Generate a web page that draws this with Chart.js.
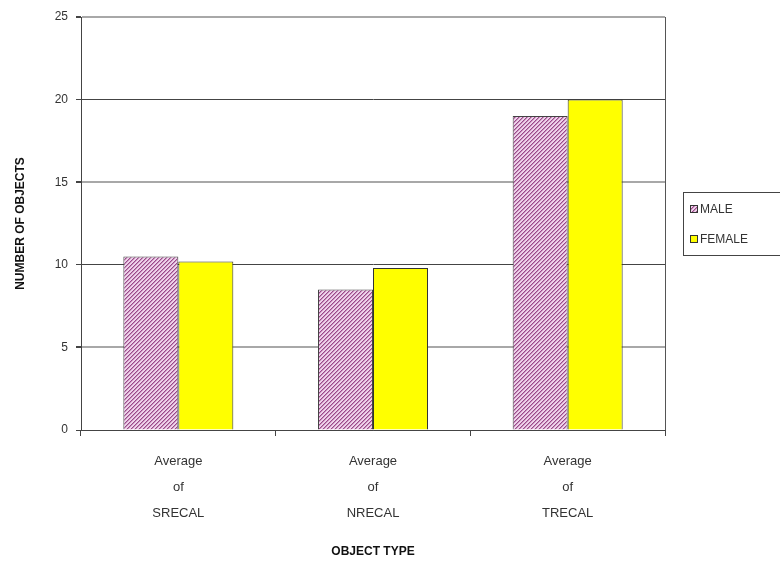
<!DOCTYPE html>
<html>
<head>
<meta charset="utf-8">
<script src="https://cdn.jsdelivr.net/npm/chart.js@4.4.1/dist/chart.umd.min.js"></script>
<style>
  html, body { margin: 0; padding: 0; background: #fff; }
  #wrap { width: 780px; height: 563px; position: relative; }
</style>
</head>
<body>
<div id="wrap"><canvas id="c" width="780" height="563"></canvas></div>
<script>
const categories = [["Average", "of", "SRECAL"], ["Average", "of", "NRECAL"], ["Average", "of", "TRECAL"]];
const seriesNames = ["MALE", "FEMALE"];
const maleValues = [10.5, 8.5, 19];
const femaleValues = [10.2, 9.8, 20];
const yMax = 25;
const yStep = 5;

// Hatched fill for the MALE bars
function makeHatch() {
  const p = document.createElement('canvas');
  p.width = 4; p.height = 4;
  const g = p.getContext('2d');
  g.fillStyle = '#eed2ea';
  g.fillRect(0, 0, 4, 4);
  g.fillStyle = '#9a4a8a';
  for (let i = 0; i < 4; i++) {
    g.fillRect(i, 3 - i, 1, 1);
  }
  g.fillStyle = '#c890bc';
  for (let i = 0; i < 4; i++) {
    g.fillRect((i + 1) % 4, 3 - i, 1, 1);
  }
  return g.createPattern(p, 'repeat');
}

const FONT = "'Liberation Sans', Arial, sans-serif";

// Frame on the right edge of the plot plus the boxed legend
const framePlugin = {
  id: 'frame',
  afterDraw(chart) {
    const { ctx, chartArea: a } = chart;
    ctx.save();
    ctx.strokeStyle = '#555';
    ctx.lineWidth = 1;
    ctx.beginPath();
    ctx.moveTo(a.right + 0.5, a.top);
    ctx.lineTo(a.right + 0.5, a.bottom);
    ctx.stroke();

    // legend box
    const lx = 683, ly = 192, lw = 110, lh = 63;
    ctx.strokeStyle = '#444';
    ctx.strokeRect(lx + 0.5, ly + 0.5, lw, lh);
    ctx.font = '12px ' + FONT;
    ctx.textBaseline = 'middle';
    ctx.textAlign = 'left';
    chart.data.datasets.forEach((ds, i) => {
      const cy = ly + 17 + i * 30;
      ctx.fillStyle = ds.backgroundColor;
      ctx.fillRect(lx + 7, cy - 4, 8, 8);
      ctx.strokeStyle = '#333';
      ctx.strokeRect(lx + 7.5, cy - 3.5, 7, 7);
      ctx.fillStyle = '#333';
      ctx.fillText(ds.label, lx + 17, cy + 1);
    });
    ctx.restore();
  }
};

new Chart(document.getElementById('c'), {
  type: 'bar',
  data: {
    labels: categories,
    datasets: [
      {
        label: seriesNames[0],
        data: maleValues,
        backgroundColor: makeHatch(),
        borderColor: '#444',
        borderWidth: 1
      },
      {
        label: seriesNames[1],
        data: femaleValues,
        backgroundColor: '#ffff00',
        borderColor: '#333',
        borderWidth: 1
      }
    ]
  },
  options: {
    responsive: false,
    animation: false,
    layout: { padding: { top: 17, right: 115, left: 13, bottom: 0 } },
    plugins: {
      legend: { display: false },
      tooltip: { enabled: false }
    },
    datasets: {
      bar: { categoryPercentage: 0.565, barPercentage: 1.0 }
    },
    scales: {
      x: {
        offset: true,
        grid: {
          offset: true,
          drawOnChartArea: false,
          drawTicks: true,
          tickLength: 6,
          color: '#444'
        },
        border: { display: true, color: '#444', width: 1 },
        ticks: {
          color: '#333',
          font: { family: FONT, size: 13, lineHeight: 2 },
          maxRotation: 0,
          padding: 12
        },
        title: {
          display: true,
          text: 'OBJECT TYPE',
          color: '#111',
          font: { family: FONT, size: 12, weight: 'bold' },
          padding: { top: 2, bottom: 4 }
        },
        afterFit(scale) { scale.height = 133; }
      },
      y: {
        min: 0,
        max: yMax,
        ticks: {
          stepSize: yStep,
          color: '#333',
          font: { family: FONT, size: 12 },
          padding: 8
        },
        grid: {
          color: (c) => (c.tick && c.tick.value % 10 === 5) ? '#a8a8a8' : (c.tick && c.tick.value === yMax ? '#a8a8a8' : '#444'),
          lineWidth: (c) => (c.tick && c.tick.value % 10 === 5) ? 2 : 1,
          drawTicks: true,
          tickLength: 5,
          tickColor: '#444'
        },
        border: { display: true, color: '#444', width: 1 },
        title: {
          display: true,
          text: 'NUMBER OF OBJECTS',
          color: '#111',
          font: { family: FONT, size: 12, weight: 'bold' },
          padding: { top: 0, bottom: 8 }
        },
        afterFit(scale) { scale.width = 68; }
      }
    }
  },
  plugins: [framePlugin]
});
</script>
</body>
</html>
